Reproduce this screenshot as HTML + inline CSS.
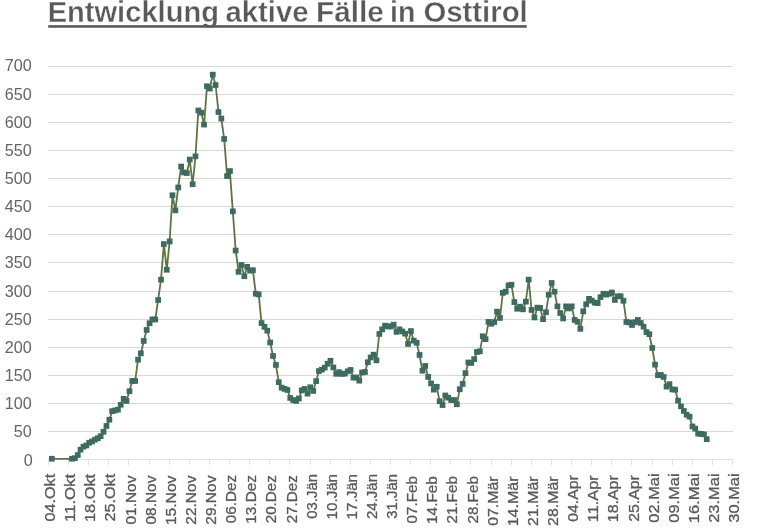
<!DOCTYPE html>
<html lang="de">
<head>
<meta charset="utf-8">
<title>Entwicklung aktive Fälle in Osttirol</title>
<style>
html,body{margin:0;padding:0;background:#fff;}
body{width:768px;height:528px;overflow:hidden;}
svg{display:block;}
text{font-family:"Liberation Sans",Arial,sans-serif;fill:#595959;}
.t{font-weight:bold;font-size:28.8px;fill:#595959;stroke:#fff;stroke-width:0.35px;}
.yl{font-size:16.8px;text-anchor:end;fill:#646464;}
.xl{font-size:15.0px;fill:#595959;stroke:#595959;stroke-width:0.3px;}
</style>
</head>
<body>
<svg width="768" height="528" viewBox="0 0 768 528">
<rect width="768" height="528" fill="#fff"/>
<text class="t" y="22.45"><tspan x="47.67" textLength="171.27" lengthAdjust="spacingAndGlyphs">Entwicklung</tspan> <tspan x="225.53" textLength="83.07" lengthAdjust="spacingAndGlyphs">aktive</tspan> <tspan x="315.91" textLength="68.05" lengthAdjust="spacingAndGlyphs">Fälle</tspan> <tspan x="390.0" textLength="25.36" lengthAdjust="spacingAndGlyphs">in</tspan> <tspan x="423.42" textLength="104.36" lengthAdjust="spacingAndGlyphs">Osttirol</tspan></text>
<rect x="48.2" y="25.15" width="478.5" height="2.6" fill="#595959"/>
<g fill="#d8d8d8">
<rect x="48" y="431" width="685" height="1"/>
<rect x="48" y="403" width="685" height="1"/>
<rect x="48" y="375" width="685" height="1"/>
<rect x="48" y="347" width="685" height="1"/>
<rect x="48" y="319" width="685" height="1"/>
<rect x="48" y="291" width="685" height="1"/>
<rect x="48" y="262" width="685" height="1"/>
<rect x="48" y="234" width="685" height="1"/>
<rect x="48" y="206" width="685" height="1"/>
<rect x="48" y="178" width="685" height="1"/>
<rect x="48" y="150" width="685" height="1"/>
<rect x="48" y="122" width="685" height="1"/>
<rect x="48" y="94" width="685" height="1"/>
<rect x="48" y="66" width="685" height="1"/>
</g>
<g fill="#e2e2e2">
<rect x="48" y="459" width="685" height="1"/>
<rect x="48" y="460" width="1" height="5"/>
<rect x="68" y="460" width="1" height="5"/>
<rect x="88" y="460" width="1" height="5"/>
<rect x="108" y="460" width="1" height="5"/>
<rect x="128" y="460" width="1" height="5"/>
<rect x="149" y="460" width="1" height="5"/>
<rect x="169" y="460" width="1" height="5"/>
<rect x="189" y="460" width="1" height="5"/>
<rect x="209" y="460" width="1" height="5"/>
<rect x="229" y="460" width="1" height="5"/>
<rect x="249" y="460" width="1" height="5"/>
<rect x="269" y="460" width="1" height="5"/>
<rect x="289" y="460" width="1" height="5"/>
<rect x="310" y="460" width="1" height="5"/>
<rect x="330" y="460" width="1" height="5"/>
<rect x="350" y="460" width="1" height="5"/>
<rect x="370" y="460" width="1" height="5"/>
<rect x="390" y="460" width="1" height="5"/>
<rect x="410" y="460" width="1" height="5"/>
<rect x="430" y="460" width="1" height="5"/>
<rect x="450" y="460" width="1" height="5"/>
<rect x="470" y="460" width="1" height="5"/>
<rect x="491" y="460" width="1" height="5"/>
<rect x="511" y="460" width="1" height="5"/>
<rect x="531" y="460" width="1" height="5"/>
<rect x="551" y="460" width="1" height="5"/>
<rect x="571" y="460" width="1" height="5"/>
<rect x="591" y="460" width="1" height="5"/>
<rect x="611" y="460" width="1" height="5"/>
<rect x="631" y="460" width="1" height="5"/>
<rect x="652" y="460" width="1" height="5"/>
<rect x="672" y="460" width="1" height="5"/>
<rect x="692" y="460" width="1" height="5"/>
<rect x="712" y="460" width="1" height="5"/>
<rect x="732" y="460" width="1" height="5"/>
</g>
<text class="yl" transform="translate(32.8 466.15) scale(0.965 1)">0</text>
<text class="yl" transform="translate(31.8 437.30) scale(0.965 1)">50</text>
<text class="yl" transform="translate(31.8 409.15) scale(0.965 1)">100</text>
<text class="yl" transform="translate(31.8 381.00) scale(0.965 1)">150</text>
<text class="yl" transform="translate(31.8 352.85) scale(0.965 1)">200</text>
<text class="yl" transform="translate(31.8 324.70) scale(0.965 1)">250</text>
<text class="yl" transform="translate(31.8 296.55) scale(0.965 1)">300</text>
<text class="yl" transform="translate(31.8 268.40) scale(0.965 1)">350</text>
<text class="yl" transform="translate(31.8 240.25) scale(0.965 1)">400</text>
<text class="yl" transform="translate(31.8 212.10) scale(0.965 1)">450</text>
<text class="yl" transform="translate(31.8 183.95) scale(0.965 1)">500</text>
<text class="yl" transform="translate(31.8 155.80) scale(0.965 1)">550</text>
<text class="yl" transform="translate(31.8 127.65) scale(0.965 1)">600</text>
<text class="yl" transform="translate(31.8 99.50) scale(0.965 1)">650</text>
<text class="yl" transform="translate(31.8 71.35) scale(0.965 1)">700</text>
<text class="xl" transform="translate(55.10 521.42) rotate(-90) scale(1.077 1)">04.Okt</text>
<text class="xl" transform="translate(75.22 522.01) rotate(-90) scale(1.119 1)">11.Okt</text>
<text class="xl" transform="translate(95.34 521.98) rotate(-90) scale(1.090 1)">18.Okt</text>
<text class="xl" transform="translate(115.45 521.56) rotate(-90) scale(1.080 1)">25.Okt</text>
<text class="xl" transform="translate(135.57 524.54) rotate(-90) scale(1.030 1)">01.Nov</text>
<text class="xl" transform="translate(155.69 524.54) rotate(-90) scale(1.030 1)">08.Nov</text>
<text class="xl" transform="translate(175.81 525.07) rotate(-90) scale(1.041 1)">15.Nov</text>
<text class="xl" transform="translate(195.93 524.67) rotate(-90) scale(1.033 1)">22.Nov</text>
<text class="xl" transform="translate(216.04 524.67) rotate(-90) scale(1.033 1)">29.Nov</text>
<text class="xl" transform="translate(236.16 523.23) rotate(-90) scale(1.016 1)">06.Dez</text>
<text class="xl" transform="translate(256.28 523.76) rotate(-90) scale(1.027 1)">13.Dez</text>
<text class="xl" transform="translate(276.40 523.36) rotate(-90) scale(1.018 1)">20.Dez</text>
<text class="xl" transform="translate(296.52 523.36) rotate(-90) scale(1.018 1)">27.Dez</text>
<text class="xl" transform="translate(316.63 518.87) rotate(-90) scale(0.997 1)">03.Jän</text>
<text class="xl" transform="translate(336.75 519.38) rotate(-90) scale(1.009 1)">10.Jän</text>
<text class="xl" transform="translate(356.87 519.38) rotate(-90) scale(1.009 1)">17.Jän</text>
<text class="xl" transform="translate(376.99 519.00) rotate(-90) scale(1.000 1)">24.Jän</text>
<text class="xl" transform="translate(397.11 518.87) rotate(-90) scale(0.997 1)">31.Jän</text>
<text class="xl" transform="translate(417.22 523.43) rotate(-90) scale(1.014 1)">07.Feb</text>
<text class="xl" transform="translate(437.34 523.95) rotate(-90) scale(1.025 1)">14.Feb</text>
<text class="xl" transform="translate(457.46 523.56) rotate(-90) scale(1.017 1)">21.Feb</text>
<text class="xl" transform="translate(477.58 523.56) rotate(-90) scale(1.017 1)">28.Feb</text>
<text class="xl" transform="translate(497.70 525.76) rotate(-90) scale(1.057 1)">07.Mär</text>
<text class="xl" transform="translate(517.81 526.30) rotate(-90) scale(1.069 1)">14.Mär</text>
<text class="xl" transform="translate(537.93 525.89) rotate(-90) scale(1.060 1)">21.Mär</text>
<text class="xl" transform="translate(558.05 525.89) rotate(-90) scale(1.060 1)">28.Mär</text>
<text class="xl" transform="translate(578.17 521.66) rotate(-90) scale(1.052 1)">04.Apr</text>
<text class="xl" transform="translate(598.29 522.23) rotate(-90) scale(1.090 1)">11.Apr</text>
<text class="xl" transform="translate(618.40 522.20) rotate(-90) scale(1.064 1)">18.Apr</text>
<text class="xl" transform="translate(638.52 521.79) rotate(-90) scale(1.055 1)">25.Apr</text>
<text class="xl" transform="translate(658.64 522.68) rotate(-90) scale(1.095 1)">02.Mai</text>
<text class="xl" transform="translate(678.76 522.68) rotate(-90) scale(1.095 1)">09.Mai</text>
<text class="xl" transform="translate(698.88 523.25) rotate(-90) scale(1.108 1)">16.Mai</text>
<text class="xl" transform="translate(718.99 522.82) rotate(-90) scale(1.098 1)">23.Mai</text>
<text class="xl" transform="translate(739.11 522.68) rotate(-90) scale(1.095 1)">30.Mai</text>
<polyline fill="none" stroke="#5d7541" stroke-width="1.8" stroke-linejoin="round" points="51.9,458.8 72.0,458.8 74.8,458.2 77.7,455.1 80.6,449.7 83.4,446.7 86.3,445.5 89.2,442.8 92.1,441.5 94.9,439.6 97.8,438.3 100.7,436.2 103.6,431.8 106.4,426.0 109.3,419.8 112.2,411.2 115.0,410.5 117.9,409.6 120.8,404.8 123.7,398.9 126.5,401.0 129.4,391.2 132.3,381.0 135.2,381.0 138.0,359.6 140.9,353.4 143.8,341.0 146.6,330.0 149.5,323.2 152.4,319.5 155.3,319.5 158.1,300.1 161.0,279.6 163.9,244.1 166.8,269.8 169.6,241.4 172.5,195.2 175.4,210.3 178.2,187.4 181.1,166.5 184.0,172.4 186.9,173.0 189.7,159.5 192.6,184.2 195.5,156.3 198.3,110.4 201.2,112.6 204.1,124.5 207.0,86.2 209.8,88.5 212.7,74.6 215.6,85.0 218.5,112.0 221.3,118.5 224.2,138.9 227.1,176.1 229.9,171.1 232.8,211.3 235.7,250.5 238.6,271.9 241.4,265.0 244.3,276.2 247.2,266.9 250.1,270.6 252.9,270.2 255.8,293.8 258.7,294.4 261.5,323.1 264.4,326.9 267.3,330.6 270.2,342.5 273.0,356.0 275.9,365.0 278.8,382.2 281.7,387.6 284.5,388.9 287.4,390.0 290.3,398.0 293.1,400.1 296.0,401.0 298.9,398.5 301.8,390.4 304.6,389.0 307.5,393.7 310.4,387.3 313.2,391.0 316.1,381.2 319.0,371.1 321.9,369.6 324.7,367.7 327.6,363.8 330.5,360.8 333.4,367.5 336.2,373.9 339.1,372.2 342.0,374.0 344.8,373.7 347.7,371.4 350.6,370.0 353.5,377.6 356.3,377.5 359.2,380.7 362.1,372.5 365.0,372.1 367.8,362.3 370.7,357.5 373.6,354.7 376.4,360.4 379.3,334.0 382.2,329.4 385.1,325.7 387.9,326.5 390.8,326.5 393.7,324.7 396.6,331.9 399.4,329.4 402.3,331.5 405.2,333.6 408.0,344.0 410.9,331.1 413.8,340.7 416.7,342.8 419.5,355.0 422.4,370.8 425.3,366.0 428.1,377.0 431.0,383.5 433.9,389.7 436.8,386.8 439.6,401.3 442.5,405.1 445.4,395.5 448.3,397.6 451.1,400.1 454.0,400.1 456.9,404.2 459.7,389.2 462.6,384.0 465.5,373.2 468.4,362.5 471.2,363.0 474.1,359.2 477.0,352.0 479.9,351.4 482.7,336.2 485.6,339.2 488.5,321.9 491.3,323.8 494.2,322.1 497.1,311.7 500.0,318.0 502.8,292.9 505.7,291.7 508.6,285.4 511.5,284.8 514.3,302.1 517.2,308.8 520.1,306.7 522.9,309.4 525.8,301.7 528.7,279.6 531.6,310.0 534.4,317.5 537.3,307.7 540.2,308.0 543.0,319.2 545.9,312.3 548.8,294.8 551.7,283.0 554.5,291.8 557.4,306.4 560.3,313.1 563.2,318.5 566.0,306.4 568.9,308.5 571.8,306.4 574.6,320.0 577.5,321.8 580.4,328.9 583.3,311.4 586.1,304.3 589.0,298.9 591.9,300.7 594.8,302.6 597.6,303.2 600.5,297.2 603.4,293.8 606.2,294.6 609.1,293.8 612.0,292.5 614.9,300.0 617.7,296.2 620.6,296.2 623.5,300.8 626.4,322.0 629.2,322.5 632.1,325.0 635.0,322.3 637.8,320.0 640.7,323.0 643.6,326.7 646.5,332.1 649.3,334.2 652.2,348.0 655.1,364.7 657.9,375.2 660.8,375.0 663.7,377.0 666.6,386.6 669.4,384.2 672.3,389.5 675.2,389.7 678.1,400.6 680.9,406.4 683.8,411.0 686.7,414.8 689.5,416.6 692.4,426.5 695.3,428.6 698.2,433.6 701.0,434.0 703.9,434.4 706.8,439.2"/>
<g fill="#3e6b60">
<rect x="49.0" y="455.9" width="5.7" height="5.7"/>
<rect x="69.1" y="455.9" width="5.7" height="5.7"/>
<rect x="72.0" y="455.3" width="5.7" height="5.7"/>
<rect x="74.9" y="452.2" width="5.7" height="5.7"/>
<rect x="77.7" y="446.8" width="5.7" height="5.7"/>
<rect x="80.6" y="443.8" width="5.7" height="5.7"/>
<rect x="83.5" y="442.6" width="5.7" height="5.7"/>
<rect x="86.3" y="439.9" width="5.7" height="5.7"/>
<rect x="89.2" y="438.6" width="5.7" height="5.7"/>
<rect x="92.1" y="436.8" width="5.7" height="5.7"/>
<rect x="95.0" y="435.4" width="5.7" height="5.7"/>
<rect x="97.8" y="433.3" width="5.7" height="5.7"/>
<rect x="100.7" y="428.9" width="5.7" height="5.7"/>
<rect x="103.6" y="423.1" width="5.7" height="5.7"/>
<rect x="106.5" y="416.9" width="5.7" height="5.7"/>
<rect x="109.3" y="408.3" width="5.7" height="5.7"/>
<rect x="112.2" y="407.6" width="5.7" height="5.7"/>
<rect x="115.1" y="406.8" width="5.7" height="5.7"/>
<rect x="117.9" y="401.9" width="5.7" height="5.7"/>
<rect x="120.8" y="396.0" width="5.7" height="5.7"/>
<rect x="123.7" y="398.1" width="5.7" height="5.7"/>
<rect x="126.6" y="388.4" width="5.7" height="5.7"/>
<rect x="129.4" y="378.1" width="5.7" height="5.7"/>
<rect x="132.3" y="378.1" width="5.7" height="5.7"/>
<rect x="135.2" y="356.8" width="5.7" height="5.7"/>
<rect x="138.0" y="350.5" width="5.7" height="5.7"/>
<rect x="140.9" y="338.1" width="5.7" height="5.7"/>
<rect x="143.8" y="327.1" width="5.7" height="5.7"/>
<rect x="146.7" y="320.4" width="5.7" height="5.7"/>
<rect x="149.5" y="316.6" width="5.7" height="5.7"/>
<rect x="152.4" y="316.6" width="5.7" height="5.7"/>
<rect x="155.3" y="297.2" width="5.7" height="5.7"/>
<rect x="158.2" y="276.8" width="5.7" height="5.7"/>
<rect x="161.0" y="241.2" width="5.7" height="5.7"/>
<rect x="163.9" y="266.9" width="5.7" height="5.7"/>
<rect x="166.8" y="238.6" width="5.7" height="5.7"/>
<rect x="169.6" y="192.4" width="5.7" height="5.7"/>
<rect x="172.5" y="207.5" width="5.7" height="5.7"/>
<rect x="175.4" y="184.6" width="5.7" height="5.7"/>
<rect x="178.3" y="163.7" width="5.7" height="5.7"/>
<rect x="181.1" y="169.6" width="5.7" height="5.7"/>
<rect x="184.0" y="170.2" width="5.7" height="5.7"/>
<rect x="186.9" y="156.7" width="5.7" height="5.7"/>
<rect x="189.8" y="181.4" width="5.7" height="5.7"/>
<rect x="192.6" y="153.5" width="5.7" height="5.7"/>
<rect x="195.5" y="107.6" width="5.7" height="5.7"/>
<rect x="198.4" y="109.8" width="5.7" height="5.7"/>
<rect x="201.2" y="121.7" width="5.7" height="5.7"/>
<rect x="204.1" y="83.4" width="5.7" height="5.7"/>
<rect x="207.0" y="85.7" width="5.7" height="5.7"/>
<rect x="209.9" y="71.8" width="5.7" height="5.7"/>
<rect x="212.7" y="82.2" width="5.7" height="5.7"/>
<rect x="215.6" y="109.2" width="5.7" height="5.7"/>
<rect x="218.5" y="115.7" width="5.7" height="5.7"/>
<rect x="221.3" y="136.1" width="5.7" height="5.7"/>
<rect x="224.2" y="173.2" width="5.7" height="5.7"/>
<rect x="227.1" y="168.2" width="5.7" height="5.7"/>
<rect x="230.0" y="208.5" width="5.7" height="5.7"/>
<rect x="232.8" y="247.7" width="5.7" height="5.7"/>
<rect x="235.7" y="269.0" width="5.7" height="5.7"/>
<rect x="238.6" y="262.1" width="5.7" height="5.7"/>
<rect x="241.5" y="273.4" width="5.7" height="5.7"/>
<rect x="244.3" y="264.0" width="5.7" height="5.7"/>
<rect x="247.2" y="267.8" width="5.7" height="5.7"/>
<rect x="250.1" y="267.4" width="5.7" height="5.7"/>
<rect x="252.9" y="290.9" width="5.7" height="5.7"/>
<rect x="255.8" y="291.5" width="5.7" height="5.7"/>
<rect x="258.7" y="320.2" width="5.7" height="5.7"/>
<rect x="261.6" y="324.0" width="5.7" height="5.7"/>
<rect x="264.4" y="327.8" width="5.7" height="5.7"/>
<rect x="267.3" y="339.6" width="5.7" height="5.7"/>
<rect x="270.2" y="353.1" width="5.7" height="5.7"/>
<rect x="273.1" y="362.1" width="5.7" height="5.7"/>
<rect x="275.9" y="379.3" width="5.7" height="5.7"/>
<rect x="278.8" y="384.8" width="5.7" height="5.7"/>
<rect x="281.7" y="386.0" width="5.7" height="5.7"/>
<rect x="284.5" y="387.1" width="5.7" height="5.7"/>
<rect x="287.4" y="395.1" width="5.7" height="5.7"/>
<rect x="290.3" y="397.2" width="5.7" height="5.7"/>
<rect x="293.2" y="398.1" width="5.7" height="5.7"/>
<rect x="296.0" y="395.6" width="5.7" height="5.7"/>
<rect x="298.9" y="387.5" width="5.7" height="5.7"/>
<rect x="301.8" y="386.1" width="5.7" height="5.7"/>
<rect x="304.7" y="390.8" width="5.7" height="5.7"/>
<rect x="307.5" y="384.4" width="5.7" height="5.7"/>
<rect x="310.4" y="388.1" width="5.7" height="5.7"/>
<rect x="313.3" y="378.3" width="5.7" height="5.7"/>
<rect x="316.1" y="368.2" width="5.7" height="5.7"/>
<rect x="319.0" y="366.8" width="5.7" height="5.7"/>
<rect x="321.9" y="364.8" width="5.7" height="5.7"/>
<rect x="324.8" y="360.9" width="5.7" height="5.7"/>
<rect x="327.6" y="357.9" width="5.7" height="5.7"/>
<rect x="330.5" y="364.6" width="5.7" height="5.7"/>
<rect x="333.4" y="371.0" width="5.7" height="5.7"/>
<rect x="336.2" y="369.3" width="5.7" height="5.7"/>
<rect x="339.1" y="371.1" width="5.7" height="5.7"/>
<rect x="342.0" y="370.8" width="5.7" height="5.7"/>
<rect x="344.9" y="368.5" width="5.7" height="5.7"/>
<rect x="347.7" y="367.1" width="5.7" height="5.7"/>
<rect x="350.6" y="374.8" width="5.7" height="5.7"/>
<rect x="353.5" y="374.6" width="5.7" height="5.7"/>
<rect x="356.4" y="377.8" width="5.7" height="5.7"/>
<rect x="359.2" y="369.6" width="5.7" height="5.7"/>
<rect x="362.1" y="369.2" width="5.7" height="5.7"/>
<rect x="365.0" y="359.4" width="5.7" height="5.7"/>
<rect x="367.8" y="354.6" width="5.7" height="5.7"/>
<rect x="370.7" y="351.8" width="5.7" height="5.7"/>
<rect x="373.6" y="357.5" width="5.7" height="5.7"/>
<rect x="376.5" y="331.1" width="5.7" height="5.7"/>
<rect x="379.3" y="326.5" width="5.7" height="5.7"/>
<rect x="382.2" y="322.8" width="5.7" height="5.7"/>
<rect x="385.1" y="323.6" width="5.7" height="5.7"/>
<rect x="388.0" y="323.6" width="5.7" height="5.7"/>
<rect x="390.8" y="321.8" width="5.7" height="5.7"/>
<rect x="393.7" y="329.0" width="5.7" height="5.7"/>
<rect x="396.6" y="326.5" width="5.7" height="5.7"/>
<rect x="399.4" y="328.6" width="5.7" height="5.7"/>
<rect x="402.3" y="330.8" width="5.7" height="5.7"/>
<rect x="405.2" y="341.1" width="5.7" height="5.7"/>
<rect x="408.1" y="328.2" width="5.7" height="5.7"/>
<rect x="410.9" y="337.8" width="5.7" height="5.7"/>
<rect x="413.8" y="339.9" width="5.7" height="5.7"/>
<rect x="416.7" y="352.1" width="5.7" height="5.7"/>
<rect x="419.6" y="367.9" width="5.7" height="5.7"/>
<rect x="422.4" y="363.1" width="5.7" height="5.7"/>
<rect x="425.3" y="374.1" width="5.7" height="5.7"/>
<rect x="428.2" y="380.6" width="5.7" height="5.7"/>
<rect x="431.0" y="386.8" width="5.7" height="5.7"/>
<rect x="433.9" y="383.9" width="5.7" height="5.7"/>
<rect x="436.8" y="398.4" width="5.7" height="5.7"/>
<rect x="439.7" y="402.2" width="5.7" height="5.7"/>
<rect x="442.5" y="392.6" width="5.7" height="5.7"/>
<rect x="445.4" y="394.8" width="5.7" height="5.7"/>
<rect x="448.3" y="397.2" width="5.7" height="5.7"/>
<rect x="451.2" y="397.2" width="5.7" height="5.7"/>
<rect x="454.0" y="401.4" width="5.7" height="5.7"/>
<rect x="456.9" y="386.4" width="5.7" height="5.7"/>
<rect x="459.8" y="381.1" width="5.7" height="5.7"/>
<rect x="462.6" y="370.3" width="5.7" height="5.7"/>
<rect x="465.5" y="359.6" width="5.7" height="5.7"/>
<rect x="468.4" y="360.1" width="5.7" height="5.7"/>
<rect x="471.3" y="356.3" width="5.7" height="5.7"/>
<rect x="474.1" y="349.1" width="5.7" height="5.7"/>
<rect x="477.0" y="348.5" width="5.7" height="5.7"/>
<rect x="479.9" y="333.4" width="5.7" height="5.7"/>
<rect x="482.7" y="336.3" width="5.7" height="5.7"/>
<rect x="485.6" y="319.0" width="5.7" height="5.7"/>
<rect x="488.5" y="320.9" width="5.7" height="5.7"/>
<rect x="491.4" y="319.2" width="5.7" height="5.7"/>
<rect x="494.2" y="308.8" width="5.7" height="5.7"/>
<rect x="497.1" y="315.1" width="5.7" height="5.7"/>
<rect x="500.0" y="290.0" width="5.7" height="5.7"/>
<rect x="502.9" y="288.8" width="5.7" height="5.7"/>
<rect x="505.7" y="282.5" width="5.7" height="5.7"/>
<rect x="508.6" y="281.9" width="5.7" height="5.7"/>
<rect x="511.5" y="299.2" width="5.7" height="5.7"/>
<rect x="514.3" y="305.9" width="5.7" height="5.7"/>
<rect x="517.2" y="303.8" width="5.7" height="5.7"/>
<rect x="520.1" y="306.5" width="5.7" height="5.7"/>
<rect x="523.0" y="298.8" width="5.7" height="5.7"/>
<rect x="525.8" y="276.8" width="5.7" height="5.7"/>
<rect x="528.7" y="307.1" width="5.7" height="5.7"/>
<rect x="531.6" y="314.6" width="5.7" height="5.7"/>
<rect x="534.5" y="304.8" width="5.7" height="5.7"/>
<rect x="537.3" y="305.1" width="5.7" height="5.7"/>
<rect x="540.2" y="316.3" width="5.7" height="5.7"/>
<rect x="543.1" y="309.4" width="5.7" height="5.7"/>
<rect x="545.9" y="291.9" width="5.7" height="5.7"/>
<rect x="548.8" y="280.1" width="5.7" height="5.7"/>
<rect x="551.7" y="288.9" width="5.7" height="5.7"/>
<rect x="554.6" y="303.5" width="5.7" height="5.7"/>
<rect x="557.4" y="310.2" width="5.7" height="5.7"/>
<rect x="560.3" y="315.6" width="5.7" height="5.7"/>
<rect x="563.2" y="303.5" width="5.7" height="5.7"/>
<rect x="566.0" y="305.6" width="5.7" height="5.7"/>
<rect x="568.9" y="303.5" width="5.7" height="5.7"/>
<rect x="571.8" y="317.1" width="5.7" height="5.7"/>
<rect x="574.7" y="318.9" width="5.7" height="5.7"/>
<rect x="577.5" y="326.0" width="5.7" height="5.7"/>
<rect x="580.4" y="308.5" width="5.7" height="5.7"/>
<rect x="583.3" y="301.4" width="5.7" height="5.7"/>
<rect x="586.2" y="296.0" width="5.7" height="5.7"/>
<rect x="589.0" y="297.8" width="5.7" height="5.7"/>
<rect x="591.9" y="299.8" width="5.7" height="5.7"/>
<rect x="594.8" y="300.3" width="5.7" height="5.7"/>
<rect x="597.6" y="294.3" width="5.7" height="5.7"/>
<rect x="600.5" y="290.9" width="5.7" height="5.7"/>
<rect x="603.4" y="291.8" width="5.7" height="5.7"/>
<rect x="606.3" y="290.9" width="5.7" height="5.7"/>
<rect x="609.1" y="289.6" width="5.7" height="5.7"/>
<rect x="612.0" y="297.1" width="5.7" height="5.7"/>
<rect x="614.9" y="293.4" width="5.7" height="5.7"/>
<rect x="617.8" y="293.4" width="5.7" height="5.7"/>
<rect x="620.6" y="297.9" width="5.7" height="5.7"/>
<rect x="623.5" y="319.1" width="5.7" height="5.7"/>
<rect x="626.4" y="319.6" width="5.7" height="5.7"/>
<rect x="629.2" y="322.1" width="5.7" height="5.7"/>
<rect x="632.1" y="319.4" width="5.7" height="5.7"/>
<rect x="635.0" y="317.1" width="5.7" height="5.7"/>
<rect x="637.9" y="320.1" width="5.7" height="5.7"/>
<rect x="640.7" y="323.8" width="5.7" height="5.7"/>
<rect x="643.6" y="329.2" width="5.7" height="5.7"/>
<rect x="646.5" y="331.3" width="5.7" height="5.7"/>
<rect x="649.4" y="345.1" width="5.7" height="5.7"/>
<rect x="652.2" y="361.8" width="5.7" height="5.7"/>
<rect x="655.1" y="372.4" width="5.7" height="5.7"/>
<rect x="658.0" y="372.1" width="5.7" height="5.7"/>
<rect x="660.8" y="374.1" width="5.7" height="5.7"/>
<rect x="663.7" y="383.8" width="5.7" height="5.7"/>
<rect x="666.6" y="381.3" width="5.7" height="5.7"/>
<rect x="669.5" y="386.6" width="5.7" height="5.7"/>
<rect x="672.3" y="386.8" width="5.7" height="5.7"/>
<rect x="675.2" y="397.8" width="5.7" height="5.7"/>
<rect x="678.1" y="403.5" width="5.7" height="5.7"/>
<rect x="681.0" y="408.1" width="5.7" height="5.7"/>
<rect x="683.8" y="411.9" width="5.7" height="5.7"/>
<rect x="686.7" y="413.8" width="5.7" height="5.7"/>
<rect x="689.6" y="423.6" width="5.7" height="5.7"/>
<rect x="692.4" y="425.8" width="5.7" height="5.7"/>
<rect x="695.3" y="430.8" width="5.7" height="5.7"/>
<rect x="698.2" y="431.1" width="5.7" height="5.7"/>
<rect x="701.1" y="431.5" width="5.7" height="5.7"/>
<rect x="703.9" y="436.3" width="5.7" height="5.7"/>
</g>
</svg>
</body>
</html>
